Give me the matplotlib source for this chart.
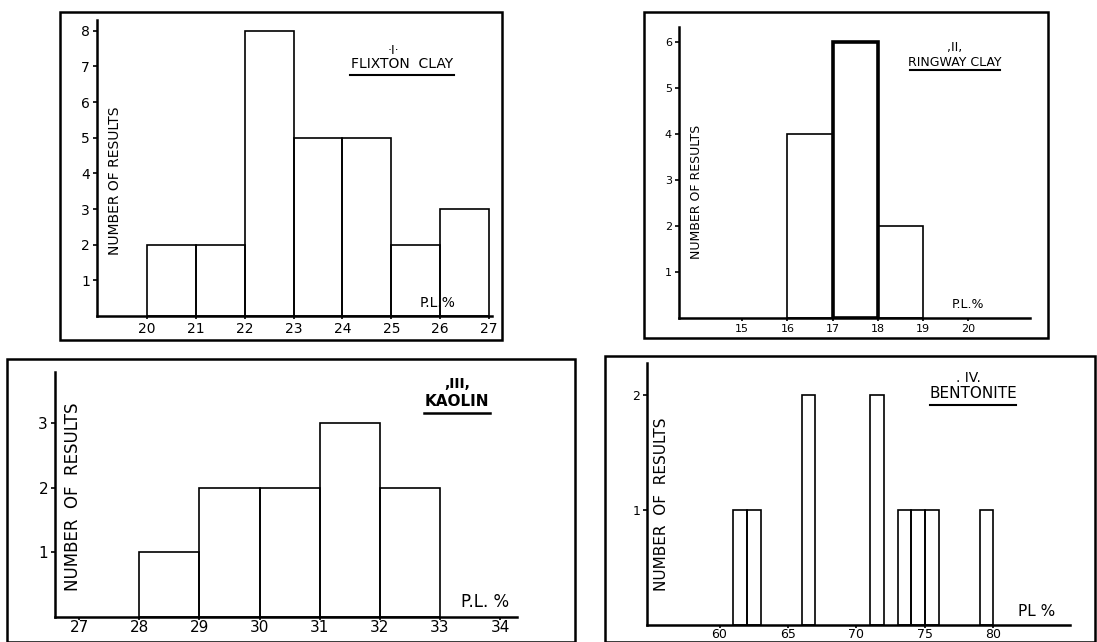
import matplotlib
matplotlib.use("Agg")
import matplotlib.pyplot as plt
from matplotlib.patches import Rectangle
from matplotlib.lines import Line2D

# Histogram data (left bin edge, count)
flixton_bins = [20, 21, 22, 23, 24, 25, 26]
flixton_counts = [2, 2, 8, 5, 5, 2, 3]

ringway_bins = [16, 17, 18]
ringway_counts = [4, 6, 2]

kaolin_bins = [28, 29, 30, 31, 32]
kaolin_counts = [1, 2, 2, 3, 2]

bentonite_bins = [61, 62, 66, 71, 73, 74, 75, 79]
bentonite_counts = [1, 1, 2, 2, 1, 1, 1, 1]

W, H = 1097, 642
plt.rcParams['font.family'] = ['DejaVu Sans']

fig = plt.figure(figsize=(W / 100, H / 100), dpi=100)


def px_rect(x0, y0, x1, y1):
    return [x0 / W, 1 - y1 / H, (x1 - x0) / W, (y1 - y0) / H]


def fig_text(x, y, s, **kw):
    fig.text(x / W, 1 - y / H, s, ha="center", va="center", **kw)


def underline(x0, x1, y, lw=1.5):
    fig.add_artist(Line2D([x0 / W, x1 / W], [1 - y / H, 1 - y / H],
                          transform=fig.transFigure, color="black", lw=lw))


def frame(x0, y0, x1, y1):
    fig.add_artist(Rectangle((x0 / W, 1 - y1 / H), (x1 - x0) / W, (y1 - y0) / H,
                             transform=fig.transFigure, fill=False,
                             edgecolor="black", lw=1.8))


def panel(box, bins, counts, xlim, ylim, xticks, yticks, fs, thick=None, xpad=2):
    ax = fig.add_axes(px_rect(*box))
    lws = [1.2] * len(bins)
    if thick is not None:
        lws[thick] = 2.6
    for b, c, lw in zip(bins, counts, lws):
        ax.bar(b, c, width=1, align="edge", fill=False, edgecolor="black", linewidth=lw)
    ax.set_xlim(*xlim)
    ax.set_ylim(*ylim)
    ax.set_xticks(xticks)
    ax.set_yticks(yticks)
    ax.spines[["top", "right"]].set_visible(False)
    for s in ["left", "bottom"]:
        ax.spines[s].set_linewidth(1.8)
    ax.tick_params(axis="y", length=3, width=1.2, labelsize=fs, pad=2)
    ax.tick_params(axis="x", length=2, width=1.2, labelsize=fs, pad=xpad)
    ax.patch.set_alpha(0)
    return ax


# I  Flixton clay
frame(60, 12, 502, 340)
panel((97, 20, 492, 316), flixton_bins, flixton_counts, (18.98, 27.06), (0, 8.3),
      range(20, 28), range(1, 9), 10)
fig_text(115, 181, "NUMBER OF RESULTS", rotation=90, fontsize=10)
fig_text(393, 50, "·I·", fontsize=9)
fig_text(402, 64, "FLIXTON  CLAY", fontsize=10)
underline(350, 454, 75)
fig_text(438, 303, "P.L.%", fontsize=10)

# II  Ringway clay
frame(644, 12, 1048, 338)
panel((679, 27, 1030, 318), ringway_bins, ringway_counts, (13.6, 21.37), (0, 6.33),
      range(15, 21), range(1, 7), 8, thick=1)
fig_text(697, 192, "NUMBER OF RESULTS", rotation=90, fontsize=9)
fig_text(955, 47, ",II,", fontsize=9)
fig_text(955, 62, "RINGWAY CLAY", fontsize=9)
underline(910, 1000, 70)
fig_text(968, 305, "P.L.%", fontsize=9)

# III  Kaolin
frame(7, 359, 575, 642)
panel((55, 372, 517, 617), kaolin_bins, kaolin_counts, (26.6, 34.28), (0, 3.79),
      range(27, 35), range(1, 4), 11, xpad=0)
fig_text(73, 497, "NUMBER  OF  RESULTS", rotation=90, fontsize=12)
fig_text(457, 384, ",III,", fontsize=10, fontweight="bold")
fig_text(457, 402, "KAOLIN", fontsize=11, fontweight="bold")
underline(424, 490, 413, lw=1.8)
fig_text(485, 602, "P.L. %", fontsize=12)

# IV  Bentonite
frame(605, 356, 1095, 642)
panel((647, 363, 1070, 625), bentonite_bins, bentonite_counts, (54.7, 85.6), (0, 2.28),
      range(60, 85, 5), [1, 2], 9, xpad=0)
fig_text(662, 504, "NUMBER  OF  RESULTS", rotation=90, fontsize=11)
fig_text(968, 378, ". IV.", fontsize=10)
fig_text(973, 394, "BENTONITE", fontsize=11)
underline(930, 1016, 405)
fig_text(1037, 612, "PL %", fontsize=11)

fig.savefig("out.png", dpi=100)
